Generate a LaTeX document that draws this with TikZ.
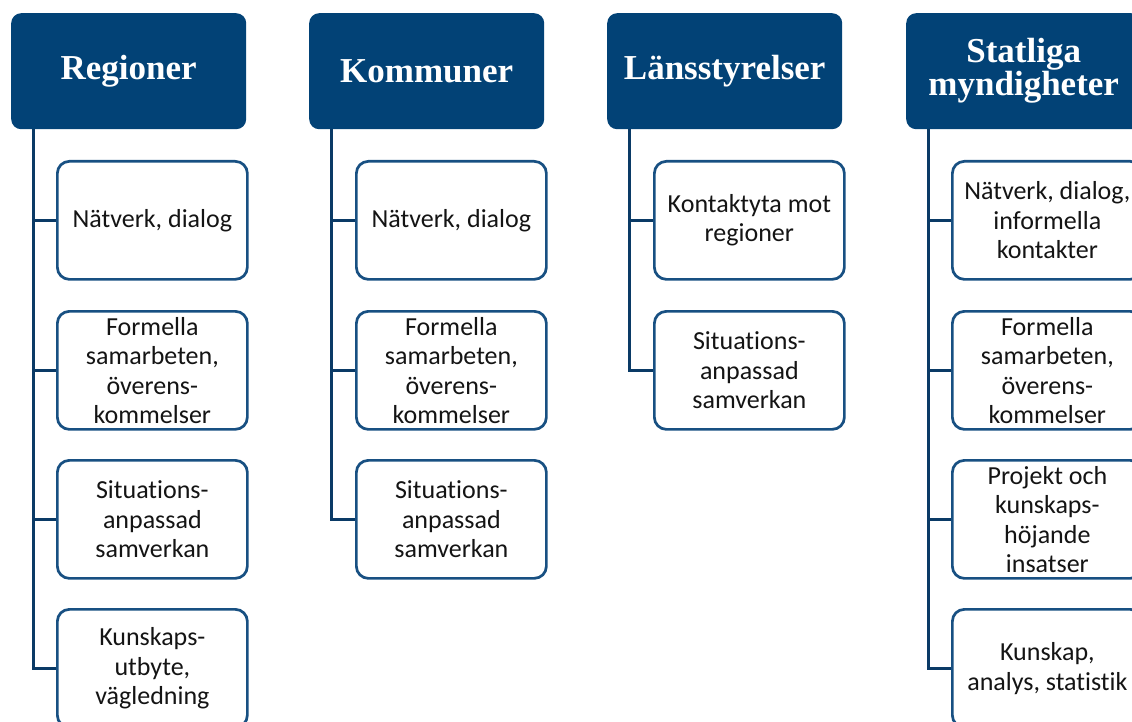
\documentclass[tikz,border=0pt]{standalone}
\usepackage{fontspec}
\setmainfont[Ligatures=NoCommon]{Carlito}
\newfontfamily\hdrfont{Liberation Serif}
\definecolor{hdrblue}{RGB}{2,66,118}
\definecolor{edgeblue}{RGB}{24,80,130}
\definecolor{linkblue}{RGB}{10,58,102}
\definecolor{bodytext}{RGB}{20,20,20}
\begin{document}
\begin{tikzpicture}[x=1pt,y=-1pt,
  hdrbox/.style={rectangle, rounded corners=10pt, fill=hdrblue, draw=none,
    minimum width=235pt, minimum height=116pt, anchor=north west,
    text=white, align=center, inner sep=0pt,
    font=\hdrfont\bfseries\fontsize{35}{32}\selectfont},
  itembox/.style={rectangle, rounded corners=12pt, fill=white, draw=edgeblue,
    line width=2.7pt, minimum width=190pt, minimum height=118pt,
    anchor=north west, text=bodytext, align=center, inner sep=0pt,
    font=\fontsize{26}{29.5}\selectfont},
  link/.style={draw=linkblue, line width=3pt}]
\useasboundingbox (0,0) rectangle (1132,722);
\clip (0,0) rectangle (1132,722);

% column headers
\node[hdrbox] (R) at (11,13)  {Regioner};
\node[hdrbox] (K) at (309,13) {Kommuner};
\node[hdrbox] (L) at (607,13) {Länsstyrelser};
\node[hdrbox] (S) at (906,13) {Statliga\\myndigheter};

% trunk start points just below each header
\coordinate (Rt) at ([xshift=22pt]R.south west);
\coordinate (Kt) at ([xshift=22pt]K.south west);
\coordinate (Lt) at ([xshift=22pt]L.south west);
\coordinate (St) at ([xshift=22pt]S.south west);

% Regioner
\node[itembox] (R1) at (56,160) {Nätverk, dialog};
\node[itembox] (R2) at (56,310) {Formella\\samarbeten,\\överens-\\kommelser};
\node[itembox] (R3) at (56,459) {Situations-\\anpassad\\samverkan};
\node[itembox] (R4) at (56,608) {Kunskaps-\\utbyte,\\vägledning};

% Kommuner
\node[itembox] (K1) at (355,160) {Nätverk, dialog};
\node[itembox] (K2) at (355,310) {Formella\\samarbeten,\\överens-\\kommelser};
\node[itembox] (K3) at (355,459) {Situations-\\anpassad\\samverkan};

% Länsstyrelser
\node[itembox] (L1) at (653,160) {Kontaktyta mot\\regioner};
\node[itembox] (L2) at (653,310) {Situations-\\anpassad\\samverkan};

% Statliga myndigheter
\node[itembox] (S1) at (951,160) {Nätverk, dialog,\\informella\\kontakter};
\node[itembox] (S2) at (951,310) {Formella\\samarbeten,\\överens-\\kommelser};
\node[itembox] (S3) at (951,459) {Projekt och\\kunskaps-\\höjande\\insatser};
\node[itembox] (S4) at (951,608) {Kunskap,\\analys, statistik};

% trunk down to the last item of each column
\draw[link] (Rt) |- (R4.west);
\draw[link] (Kt) |- (K3.west);
\draw[link] (Lt) |- (L2.west);
\draw[link] (St) |- (S4.west);

% branches from each trunk to the items above the last one
\foreach \i in {1,2,3} \draw[link] (R\i.west) -- (R\i.west -| Rt);
\foreach \i in {1,2} \draw[link] (K\i.west) -- (K\i.west -| Kt);
\draw[link] (L1.west) -- (L1.west -| Lt);
\foreach \i in {1,2,3} \draw[link] (S\i.west) -- (S\i.west -| St);
\end{tikzpicture}
\end{document}
